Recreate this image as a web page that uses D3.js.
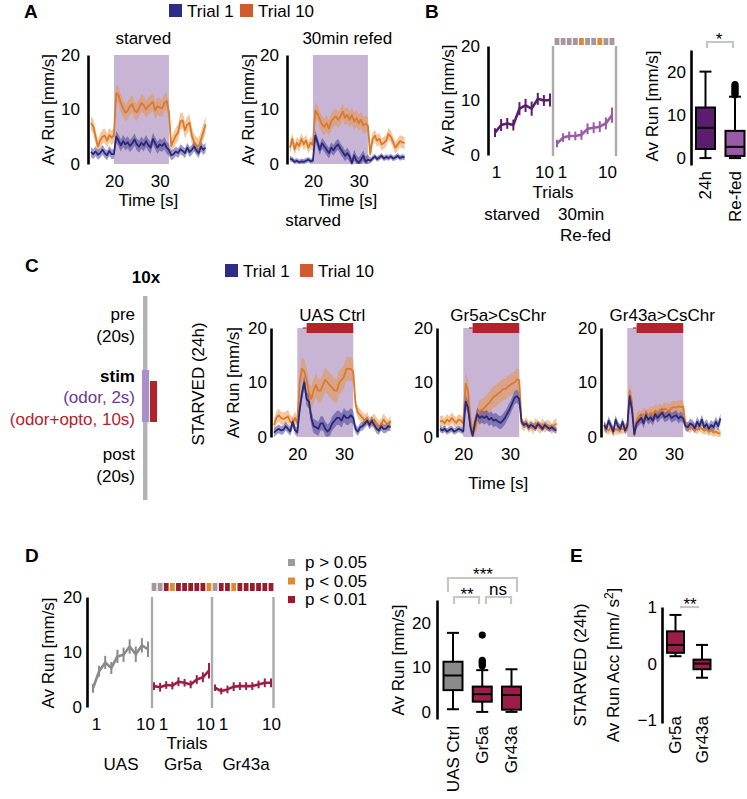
<!DOCTYPE html>
<html>
<head>
<meta charset="utf-8">
<script src="https://cdn.jsdelivr.net/npm/d3@7/dist/d3.min.js"></script>
<style>
html,body{margin:0;padding:0;background:#fff;}
text{font-family:'Liberation Sans',Arial,Helvetica,sans-serif;}
</style>
</head>
<body>
<svg id="fig" width="747" height="799" viewBox="0 0 747 799"></svg>
<script>
// ================= DATA =================
const time = d3.range(15, 40.0001, 0.5);          // sample times (s), 51 points
const runTicks = [0, 10, 20];
const timeTicks = [20, 30];
const stimWindow = [20, 32];
const optoWindow = [22, 32];
const legendLabels = ["Trial 1", "Trial 10"];

// ---- Panel A (mean run speed, mm/s) : pre(15-20) | stim(20.5-32) | post(32.5-40)
const aStarvedT10 = [7.5,6.9,5.0,3.2,4.3,5.0,5.2,4.3,5.3,4.8,5.3,
  13.0,12.6,11.2,10.2,9.4,9.8,10.6,11.0,9.8,9.5,10.3,11.2,10.8,10.0,10.6,11.0,11.4,9.8,10.6,10.4,10.2,11.2,11.6,9.5,
  3.3,4.3,5.2,5.8,7.8,8.0,6.2,7.2,7.6,5.2,4.0,3.5,3.2,4.5,5.8,7.3];
const aStarvedT1 = [2.2,1.8,2.3,1.7,2.0,2.6,2.0,1.6,2.4,1.8,1.8,
  5.0,4.3,3.4,4.2,3.6,4.0,3.3,3.8,4.5,3.6,3.2,3.9,3.4,4.2,3.5,3.0,4.6,3.8,3.0,3.6,3.3,3.8,3.0,2.6,
  1.6,1.8,2.3,2.0,2.7,2.4,2.0,3.0,2.2,2.6,3.2,2.5,2.0,3.2,2.6,3.0];
const aRefedT10 = [3.0,4.6,2.7,3.9,3.3,4.6,3.6,4.3,3.0,3.9,3.5,
  9.8,9.2,8.2,7.2,6.8,7.5,6.5,7.8,8.4,8.7,8.1,8.7,9.6,8.5,9.0,8.1,9.0,7.8,8.4,7.5,8.1,7.1,7.4,7.0,
  1.8,4.6,5.2,4.3,4.6,3.6,3.9,4.3,5.5,5.0,4.0,3.0,3.6,4.2,4.0,3.8];
const aRefedT1 = [1.0,0.8,0.4,0.6,0.3,0.5,0.4,0.6,0.8,0.5,0.6,
  5.2,4.0,2.6,3.8,3.2,2.6,2.0,3.0,2.5,3.2,3.6,2.8,2.2,1.5,2.0,1.4,0.1,1.6,0.6,0.2,0.8,1.5,0.4,0.8,
  0.6,1.0,1.4,0.9,1.2,1.5,1.0,1.3,1.1,1.4,1.0,1.2,1.5,1.1,1.3,1.2];
// SEM estimates [pre, stim, post]
const aStarvedT10Sem = [1.3, 1.6, 1.5];
const aStarvedT1Sem  = [0.9, 1.1, 0.9];
const aRefedT10Sem   = [1.1, 1.5, 1.1];
const aRefedT1Sem    = [0.5, 1.0, 0.5];

// ---- Panel B
const trials = [1,2,3,4,5,6,7,8,9,10];
const bStarved    = [4.1,5.5,5.8,5.5,8.5,9.1,8.5,10.3,10.0,10.1];
const bStarvedErr = [0.8,1.1,1.0,1.0,1.2,1.2,1.3,1.1,1.0,1.2];
const bRefed      = [2.1,3.2,3.5,3.5,3.7,4.8,5.0,5.2,5.8,7.3];
const bRefedErr   = [0.7,0.8,0.8,0.8,0.9,1.0,1.0,1.0,1.1,1.4];
const bSig = ["ns","ns","ns","ns","p05","ns","ns","p05","ns","ns"];
const bBoxCats = ["24h", "Re-fed"];
const bBoxStats = [[0, 2.1, 7.0, 11.7, 20.0], [0, 0.5, 2.6, 6.3, 14.2]];   // min,q1,med,q3,max
const bBoxOutliers = [[], [14.6, 15.0, 15.4, 15.8, 16.2, 16.6, 17.0]];

// ---- Panel C
const cTitles = ["UAS Ctrl", "Gr5a>CsChr", "Gr43a>CsChr"];
const cUasT10 = [2.2,3.5,4.0,3.5,3.3,3.5,3.8,2.8,2.5,3.5,2.5,
  10.0,12.5,12.0,10.5,8.0,7.0,8.5,9.5,8.5,8.5,9.5,10.5,10.0,9.5,9.0,8.5,8.5,10.0,10.5,11.0,12.5,12.5,12.5,12.0,
  6.0,4.5,4.0,3.5,3.0,3.5,2.5,2.8,3.2,2.5,2.0,2.2,3.2,2.6,2.0,3.0];
const cUasT1 = [0.8,1.2,1.5,1.2,1.3,2.0,1.5,1.0,2.8,1.3,0.8,
  5.0,8.0,10.0,7.0,6.5,3.5,2.0,1.8,1.5,2.5,2.5,1.5,1.0,1.5,2.5,3.0,3.5,3.5,3.0,4.0,3.5,3.5,4.0,3.5,
  1.5,1.0,1.8,2.0,2.5,3.0,2.2,3.0,2.2,1.5,1.2,2.0,1.5,1.5,2.0,1.8];
const cGr5aT10 = [2.8,3.0,2.5,3.2,2.8,3.5,3.0,2.6,3.2,3.0,2.5,
  9.8,8.5,3.5,0.3,1.5,3.5,4.8,5.0,5.3,5.8,6.2,6.8,7.4,7.6,8.0,8.3,8.8,8.8,9.2,9.5,9.8,10.0,10.6,10.4,
  2.5,2.0,2.8,1.8,2.2,1.5,2.6,2.0,1.6,2.4,1.8,2.2,2.0,1.5,2.2,2.4];
const cGr5aT1 = [1.5,1.2,1.5,1.0,1.3,1.5,1.0,1.2,1.5,1.3,1.0,
  6.5,5.5,2.0,0.2,2.5,4.2,3.5,3.8,3.5,3.8,3.2,3.5,3.0,3.2,2.8,2.6,3.0,3.6,4.4,5.2,6.2,7.2,7.5,7.0,
  2.8,2.2,2.5,1.8,2.2,2.0,1.6,2.4,2.0,1.5,2.2,1.8,1.5,1.8,1.4,1.2];
const cGr43aT10 = [1.8,1.5,1.2,1.8,1.0,1.5,1.2,1.6,1.4,1.8,1.3,
  8.5,6.5,0.3,3.0,3.8,3.5,4.2,4.0,3.8,4.5,4.2,4.8,4.5,5.0,4.6,5.2,5.0,4.8,5.3,5.5,5.4,5.6,5.5,5.6,
  2.2,1.8,1.5,2.0,1.6,1.3,1.8,1.5,1.2,1.4,1.0,1.2,0.8,1.0,0.7,0.6];
const cGr43aT1 = [2.2,1.5,3.0,2.0,1.0,3.2,2.0,1.5,2.8,1.2,2.0,
  7.5,5.0,0.5,2.5,3.0,3.5,2.5,4.0,3.2,3.6,3.0,4.2,3.5,4.0,4.5,3.6,3.8,4.2,3.5,3.8,4.0,3.4,3.8,3.4,
  2.0,1.8,2.5,2.2,1.6,2.8,2.0,3.2,1.8,2.4,1.5,2.2,1.8,2.8,2.0,3.4];
const cUasT10Sem   = [1.2, 2.2, 1.1];
const cUasT1Sem    = [0.8, 1.3, 0.8];
const cGr5aT10Sem  = [1.0, 2.0, 1.0];
const cGr5aT1Sem   = [0.6, 1.2, 0.6];
const cGr43aT10Sem = [0.9, 1.2, 0.8];
const cGr43aT1Sem  = [0.8, 0.9, 0.9];

// ---- Panel D
const dGroups = ["UAS", "Gr5a", "Gr43a"];
const dUas      = [3.4,6.5,8.1,7.1,9.2,9.5,11.0,9.6,11.2,10.5];
const dUasErr   = [0.8,1.0,1.2,1.1,1.2,1.3,1.3,1.4,1.3,1.4];
const dGr5a     = [3.8,3.6,4.0,3.9,4.6,4.4,4.1,5.0,5.4,6.6];
const dGr5aErr  = [0.7,0.8,0.7,0.7,0.8,0.7,0.7,0.8,0.9,1.4];
const dGr43a    = [3.5,2.9,3.2,3.7,3.8,3.8,3.8,4.1,4.4,4.4];
const dGr43aErr = [0.6,0.6,0.7,0.8,0.7,0.7,0.7,0.7,0.8,0.8];
const dSigGr5a  = ["ns","ns","p01","p05","p01","p01","p01","p01","p01","p05"];
const dSigGr43a = ["ns","p01","p01","p05","p01","p01","p01","p01","p01","p01"];
const sigKeys = ["ns", "p05", "p01"];
const sigLabels = ["p > 0.05", "p < 0.05", "p < 0.01"];
const dBoxCats = ["UAS Ctrl", "Gr5a", "Gr43a"];
const dBoxStats = [[0.6, 4.9, 8.2, 11.3, 17.8], [0, 2.3, 4.0, 5.7, 9.4], [0, 0.5, 3.8, 5.7, 9.6]];
const dBoxOutliers = [[], [10.4, 10.8, 11.2, 11.6, 17.3], []];

// ---- Panel E
const eBoxCats = ["Gr5a", "Gr43a"];
const eBoxStats = [[0.13, 0.19, 0.33, 0.57, 0.86], [-0.25, -0.10, 0.0, 0.07, 0.33]];
const eTicks = [-1, 0, 1];

// ================= STYLE =================
const COL = {
  t1: "#2a2878", t10: "#dc7a2b", t1Band: "#3b3593", t10Band: "#e8913c",
  shade: "#c8b5d5", opto: "#b3232b", legT1: "#2e2c86", legT10: "#d05c2d",
  starved: "#5c1d6e", refed: "#9a5aa8", uas: "#8a8a8a", crimson: "#9b1d48",
  sep: "#ababab", bracket: "#c6c6c6", odor: "#6b3896", purpleBar: "#ab8fc8"
};
const sigColor = {ns: "#a6979f", p05: "#df8a2b", p01: "#9a1b30"};
const FS = 17;

const svg = d3.select("#fig");

function txt(x, y, s, o = {}) {
  const t = svg.append("text").attr("x", x).attr("y", y).text(s)
    .attr("font-size", o.size || FS).attr("text-anchor", o.anchor || "start")
    .attr("fill", o.fill || "#000");
  if (o.bold) t.attr("font-weight", "bold");
  return t;
}
function vtxt(cx, cy, s, o = {}) {
  return svg.append("text").attr("transform", `translate(${cx},${cy}) rotate(-90)`)
    .attr("text-anchor", o.anchor || "middle").attr("dy", "0.35em")
    .attr("font-size", o.size || FS).attr("fill", o.fill || "#000").text(s);
}
function styleAxisText(sel) {
  sel.selectAll("text").attr("font-size", FS).attr("fill", "#000")
    .attr("font-family", "'Liberation Sans',Arial,sans-serif");
}
function semAt(sem, t) { return t <= stimWindow[0] ? sem[0] : (t <= stimWindow[1] ? sem[1] : sem[2]); }

// ---------- time-series panel ----------
function tsPanel(o) {
  const x = d3.scaleLinear().domain([15, 40]).range([o.x0, o.x0 + o.w]);
  const y = d3.scaleLinear().domain([0, 20]).range([o.y0, o.y20]);
  const g = svg.append("g");
  g.append("rect").attr("x", x(stimWindow[0])).attr("y", y(20))
    .attr("width", x(stimWindow[1]) - x(stimWindow[0])).attr("height", y(0) - y(20))
    .attr("fill", COL.shade);
  if (o.opto) {
    g.append("line").attr("x1", x(21.2)).attr("x2", x(optoWindow[0])).attr("y1", y(20)).attr("y2", y(20))
      .attr("stroke", COL.opto).attr("stroke-width", 1.2);
    g.append("rect").attr("x", x(optoWindow[0])).attr("y", y(20) - 5)
      .attr("width", x(optoWindow[1]) - x(optoWindow[0])).attr("height", 10).attr("fill", COL.opto);
  }
  const ser = [
    {v: o.t10, s: o.t10Sem, c: COL.t10, b: COL.t10Band, bo: 0.5},
    {v: o.t1, s: o.t1Sem, c: COL.t1, b: COL.t1Band, bo: 0.5}
  ];
  ser.forEach(s => {
    const area = d3.area().x((d, i) => x(time[i]))
      .y0((d, i) => y(Math.max(0, d - semAt(s.s, time[i]))))
      .y1((d, i) => y(Math.min(20, d + semAt(s.s, time[i]))));
    g.append("path").datum(s.v).attr("d", area).attr("fill", s.b).attr("fill-opacity", s.bo);
  });
  ser.forEach(s => {
    g.append("path").datum(s.v)
      .attr("d", d3.line().x((d, i) => x(time[i])).y(d => y(d)))
      .attr("fill", "none").attr("stroke", s.c).attr("stroke-width", 1.8).attr("stroke-linejoin", "round");
  });
  const ya = g.append("g").attr("transform", `translate(${o.axisX},0)`)
    .call(d3.axisLeft(y).tickValues(runTicks).tickSize(0).tickSizeOuter(0).tickPadding(o.tickPad));
  ya.select(".domain").attr("stroke", "#000").attr("stroke-width", 2.6);
  styleAxisText(ya);
  const xa = g.append("g").attr("transform", `translate(0,${o.y0})`)
    .call(d3.axisBottom(x).tickValues(timeTicks).tickSize(0).tickPadding(11));
  xa.select(".domain").remove();
  styleAxisText(xa);
  if (o.title) txt(o.x0 + o.w / 2 + (o.titleDx || 0), o.titleY, o.title, {anchor: "middle"});
  if (o.yLabelX) vtxt(o.yLabelX, (o.y0 + o.y20) / 2, "Av Run [mm/s]");
  if (o.xLabelY) txt(o.x0 + o.w / 2, o.xLabelY, "Time [s]", {anchor: "middle"});
}

// ---------- trials panel ----------
function trialPanel(o) {
  const y = d3.scaleLinear().domain([0, 20]).range([o.y0, o.y20]);
  const g = svg.append("g");
  const ya = g.append("g").attr("transform", `translate(${o.axisX},0)`)
    .call(d3.axisLeft(y).tickValues(runTicks).tickSize(0).tickSizeOuter(0).tickPadding(o.tickPad));
  ya.select(".domain").attr("stroke", "#000").attr("stroke-width", 2.6);
  styleAxisText(ya);
  o.groups.forEach(gr => {
    const x = d3.scaleLinear().domain([1, 10]).range([gr.xs, gr.xe]);
    g.append("line").attr("x1", gr.sep).attr("x2", gr.sep).attr("y1", o.y20).attr("y2", o.y0 + 1)
      .attr("stroke", COL.sep).attr("stroke-width", 2.4);
    gr.values.forEach((v, i) => {
      g.append("line").attr("x1", x(trials[i])).attr("x2", x(trials[i]))
        .attr("y1", y(v - gr.err[i])).attr("y2", y(v + gr.err[i]))
        .attr("stroke", gr.color).attr("stroke-width", 2);
    });
    g.append("path").datum(gr.values)
      .attr("d", d3.line().x((d, i) => x(trials[i])).y(d => y(d)))
      .attr("fill", "none").attr("stroke", gr.color).attr("stroke-width", 2.6).attr("stroke-linejoin", "round");
    const xa = g.append("g").attr("transform", `translate(0,${o.y0})`)
      .call(d3.axisBottom(x).tickValues([1, 10]).tickSize(0).tickPadding(11));
    xa.select(".domain").remove();
    styleAxisText(xa);
    xa.selectAll("text").attr("dx", d => d === 1 ? gr.dx1 : gr.dx10);
    if (gr.sig) {
      gr.sig.forEach((s, i) => {
        g.append("rect").attr("x", x(trials[i]) - 2.4).attr("y", o.sigY)
          .attr("width", 4.8).attr("height", o.sigH).attr("fill", sigColor[s]);
      });
    }
  });
}

// ---------- box panel ----------
function boxPanel(o) {
  const y = d3.scaleLinear().domain(o.domain).range([o.yBottom, o.yTop]);
  const xp = d3.scalePoint().domain(o.cats).range(o.xRange);
  const g = svg.append("g");
  const ya = g.append("g").attr("transform", `translate(${o.axisX},0)`)
    .call(d3.axisLeft(y).tickValues(o.ticks).tickFormat(d3.format("d")).tickSize(0).tickSizeOuter(0).tickPadding(o.tickPad));
  ya.select(".domain").attr("stroke", "#000").attr("stroke-width", 2.6);
  styleAxisText(ya);
  o.cats.forEach((c, i) => {
    const [mn, q1, md, q3, mx] = o.stats[i];
    const cx = xp(c), w = o.w, cw = o.capW;
    g.append("line").attr("x1", cx).attr("x2", cx).attr("y1", y(mn)).attr("y2", y(q1)).attr("stroke", "#000").attr("stroke-width", 2);
    g.append("line").attr("x1", cx).attr("x2", cx).attr("y1", y(q3)).attr("y2", y(mx)).attr("stroke", "#000").attr("stroke-width", 2);
    [mn, mx].forEach(v => g.append("line").attr("x1", cx - cw / 2).attr("x2", cx + cw / 2)
      .attr("y1", y(v)).attr("y2", y(v)).attr("stroke", "#000").attr("stroke-width", 2));
    g.append("rect").attr("x", cx - w / 2).attr("y", y(q3)).attr("width", w).attr("height", y(q1) - y(q3))
      .attr("fill", o.fills[i]).attr("stroke", "#000").attr("stroke-width", 2);
    g.append("line").attr("x1", cx - w / 2).attr("x2", cx + w / 2).attr("y1", y(md)).attr("y2", y(md))
      .attr("stroke", "#000").attr("stroke-width", 2);
    (o.outliers ? o.outliers[i] : []).forEach(v => g.append("circle").attr("cx", cx).attr("cy", y(v)).attr("r", 3.6).attr("fill", "#000"));
    vtxt(cx, o.labelTop, c, {anchor: "end"});
  });
  return {y, xp};
}
function bracket(x1, x2, yTop, legs) {
  const p = legs ? `M${x1},${yTop + legs}V${yTop}H${x2}V${yTop + legs}` : `M${x1},${yTop}H${x2}`;
  svg.append("path").attr("d", p).attr("fill", "none").attr("stroke", COL.bracket).attr("stroke-width", 2.2);
}

// ================= PANEL A =================
txt(24, 18, "A", {bold: true, size: 19});
svg.append("rect").attr("x", 169).attr("y", 4).attr("width", 13).attr("height", 13).attr("fill", COL.legT1);
txt(187, 17, legendLabels[0]);
svg.append("rect").attr("x", 240).attr("y", 4).attr("width", 13).attr("height", 13).attr("fill", COL.legT10);
txt(258, 17, legendLabels[1]);
tsPanel({x0: 91, w: 114.6, y0: 164, y20: 55, axisX: 88, tickPad: 8, title: "starved", titleY: 44, titleDx: -5,
  t1: aStarvedT1, t10: aStarvedT10, t1Sem: aStarvedT1Sem, t10Sem: aStarvedT10Sem, yLabelX: 48, xLabelY: 206});
tsPanel({x0: 290, w: 114.6, y0: 164, y20: 55, axisX: 287, tickPad: 8, title: "30min refed", titleY: 44,
  t1: aRefedT1, t10: aRefedT10, t1Sem: aRefedT1Sem, t10Sem: aRefedT10Sem, yLabelX: 248, xLabelY: 206});
txt(313, 226, "starved", {anchor: "middle"});

// ================= PANEL B =================
txt(425, 18, "B", {bold: true, size: 19});
trialPanel({axisX: 488, y0: 155, y20: 46, tickPad: 8, sigY: 38, sigH: 7, groups: [
  {xs: 495, xe: 550, sep: 553, values: bStarved, err: bStarvedErr, color: COL.starved, dx1: 1, dx10: -6},
  {xs: 557, xe: 612, sep: 616, values: bRefed, err: bRefedErr, color: COL.refed, sig: bSig, dx1: 5, dx10: -5}
]});
vtxt(448, 100, "Av Run [mm/s]");
txt(553, 198, "Trials", {anchor: "middle"});
txt(512, 220, "starved", {anchor: "middle"});
txt(558, 220, "30min");
txt(560, 241, "Re-fed");
boxPanel({axisX: 691, domain: [-1.6, 25], yBottom: 165, yTop: 50, ticks: runTicks, tickPad: 5,
  cats: bBoxCats, xRange: [705.5, 735], stats: bBoxStats, outliers: bBoxOutliers,
  fills: [COL.starved, COL.refed], w: 19, capW: 12, labelTop: 171});
vtxt(652, 106, "Av Run [mm/s]");
bracket(707, 733, 42, 6);
txt(719, 45, "*", {anchor: "middle"});

// ================= PANEL C =================
txt(25, 272, "C", {bold: true, size: 19});
txt(146, 283, "10x", {anchor: "middle", bold: true});
svg.append("rect").attr("x", 143).attr("y", 296).attr("width", 4.5).attr("height", 204).attr("fill", "#b3b3b3");
svg.append("rect").attr("x", 142).attr("y", 370).attr("width", 7).attr("height", 52).attr("fill", COL.purpleBar);
svg.append("rect").attr("x", 150).attr("y", 381).attr("width", 7).attr("height", 41).attr("fill", COL.opto);
txt(135, 320, "pre", {anchor: "end"});
txt(135, 342, "(20s)", {anchor: "end"});
txt(135, 382, "stim", {anchor: "end", bold: true});
txt(135, 403, "(odor, 2s)", {anchor: "end", fill: COL.odor});
txt(135, 425, "(odor+opto, 10s)", {anchor: "end", fill: COL.opto});
txt(135, 460, "post", {anchor: "end"});
txt(135, 482, "(20s)", {anchor: "end"});

svg.append("rect").attr("x", 225).attr("y", 264).attr("width", 13).attr("height", 13).attr("fill", COL.legT1);
txt(243, 277, legendLabels[0]);
svg.append("rect").attr("x", 300).attr("y", 264).attr("width", 13).attr("height", 13).attr("fill", COL.legT10);
txt(318, 277, legendLabels[1]);

vtxt(198, 384, "STARVED (24h)");
const cX0 = [274, 440, 604], cAxis = [271, 437, 601];
const cT10 = [cUasT10, cGr5aT10, cGr43aT10], cT1 = [cUasT1, cGr5aT1, cGr43aT1];
const cT10Sem = [cUasT10Sem, cGr5aT10Sem, cGr43aT10Sem], cT1Sem = [cUasT1Sem, cGr5aT1Sem, cGr43aT1Sem];
cTitles.forEach((t, i) => {
  tsPanel({x0: cX0[i], w: 116.5, y0: 437, y20: 328, axisX: cAxis[i], tickPad: 4, title: t, titleY: 321,
    t1: cT1[i], t10: cT10[i], t1Sem: cT1Sem[i], t10Sem: cT10Sem[i], opto: true,
    yLabelX: i === 0 ? 233 : null, xLabelY: i === 1 ? 489 : null});
});

// ================= PANEL D =================
txt(25, 562, "D", {bold: true, size: 19});
trialPanel({axisX: 87, y0: 707, y20: 597, tickPad: 5, sigY: 583, sigH: 8, groups: [
  {xs: 93, xe: 148, sep: 152, values: dUas, err: dUasErr, color: COL.uas, dx1: 3, dx10: -3},
  {xs: 154, xe: 209, sep: 212, values: dGr5a, err: dGr5aErr, color: COL.crimson, sig: dSigGr5a, dx1: 9, dx10: -4},
  {xs: 215, xe: 271, sep: 273.5, values: dGr43a, err: dGr43aErr, color: COL.crimson, sig: dSigGr43a, dx1: 8, dx10: 0}
]});
vtxt(48, 653, "Av Run [mm/s]");
txt(187, 749, "Trials", {anchor: "middle"});
const dGroupX = [121, 183, 246];
dGroups.forEach((gname, i) => txt(dGroupX[i], 770, gname, {anchor: "middle"}));
sigKeys.forEach((k, i) => {
  svg.append("rect").attr("x", 288).attr("y", 559 + i * 18.5).attr("width", 7).attr("height", 7).attr("fill", sigColor[k]);
  txt(305, 568 + i * 18.5, sigLabels[i]);
});
boxPanel({axisX: 437, domain: [-1.6, 25.2], yBottom: 719, yTop: 600, ticks: runTicks, tickPad: 6,
  cats: dBoxCats, xRange: [453, 511.5], stats: dBoxStats, outliers: dBoxOutliers,
  fills: [COL.uas, COL.crimson, COL.crimson], w: 19, capW: 12, labelTop: 726});
vtxt(398, 660, "Av Run [mm/s]");
bracket(448, 517, 578, 14);
txt(483, 580, "***", {anchor: "middle"});
bracket(454, 479, 597, 7);
txt(467, 600, "**", {anchor: "middle"});
bracket(486, 511, 597, 7);
txt(498, 595, "ns", {anchor: "middle"});

// ================= PANEL E =================
txt(570, 562, "E", {bold: true, size: 19});
boxPanel({axisX: 662, domain: [-1.05, 1], yBottom: 723, yTop: 607, ticks: eTicks, tickPad: 5,
  cats: eBoxCats, xRange: [675.5, 702], stats: eBoxStats,
  fills: [COL.crimson, COL.crimson], w: 17, capW: 12, labelTop: 716});
vtxt(580, 665, "STARVED (24h)");
const eLab = svg.append("text").attr("transform", "translate(613,665) rotate(-90)")
  .attr("text-anchor", "middle").attr("dy", "0.35em").attr("font-size", FS);
eLab.append("tspan").text("Av Run Acc [mm/ s");
eLab.append("tspan").text("2").attr("font-size", 12).attr("dy", "-0.5em");
eLab.append("tspan").text("]").attr("dy", "0.35em");
bracket(680, 699, 607, 0);
txt(690, 610, "**", {anchor: "middle"});
</script>
</body>
</html>
